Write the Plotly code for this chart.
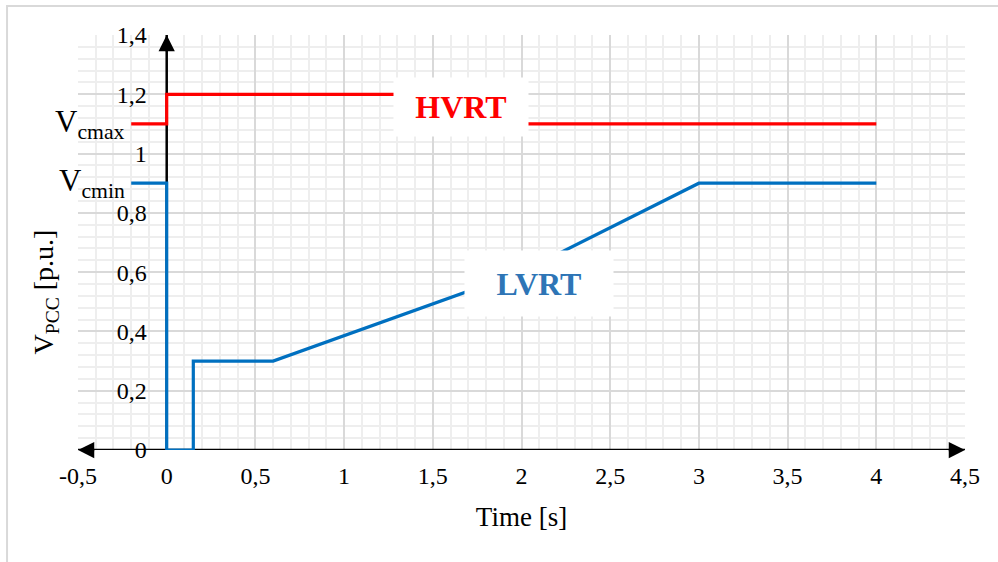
import plotly.graph_objects as go

# ---- data ----
hvrt_t = [-0.2, 0, 0, 1.5, 1.5, 4]
hvrt_v = [1.1, 1.1, 1.2, 1.2, 1.1, 1.1]
lvrt_t = [-0.2, 0, 0, 0.15, 0.15, 0.6, 2.0, 3.0, 4.0]
lvrt_v = [0.9, 0.9, 0, 0, 0.3, 0.3, 0.6, 0.9, 0.9]
x_ticks = [-0.5, 0, 0.5, 1, 1.5, 2, 2.5, 3, 3.5, 4, 4.5]
x_ticktext = ["-0,5", "0", "0,5", "1", "1,5", "2", "2,5", "3", "3,5", "4", "4,5"]
y_ticks = [0, 0.2, 0.4, 0.6, 0.8, 1.0, 1.2, 1.4]
y_ticktext = ["0", "0,2", "0,4", "0,6", "0,8", "1", "1,2", "1,4"]
v_cmax = 1.1
v_cmin = 0.9

FONT = "Liberation Serif"
RED = "#FF0000"
BLUE = "#0070C0"
XMIN, XMAX = -0.5, 4.5
YMIN, YMAX = 0, 1.4

fig = go.Figure()

# axis lines (drawn below data)
fig.add_trace(go.Scatter(x=[XMIN, XMAX], y=[0, 0], mode="lines",
                         line=dict(color="black", width=2.5), hoverinfo="skip", showlegend=False))
fig.add_trace(go.Scatter(x=[0, 0], y=[YMIN, YMAX], mode="lines",
                         line=dict(color="black", width=2.5), hoverinfo="skip", showlegend=False))

fig.add_trace(go.Scatter(x=hvrt_t, y=hvrt_v, mode="lines", name="HVRT",
                         line=dict(color=RED, width=3.2), showlegend=False))
fig.add_trace(go.Scatter(x=lvrt_t, y=lvrt_v, mode="lines", name="LVRT",
                         line=dict(color=BLUE, width=3.2), showlegend=False))

annotations = []
# arrowheads
for (x, y, ax, ay) in [(XMAX, 0, XMAX - 0.1, 0), (XMIN, 0, XMIN + 0.1, 0), (0, YMAX, 0, YMAX - 0.06)]:
    annotations.append(dict(x=x, y=y, ax=ax, ay=ay, xref="x", yref="y", axref="x", ayref="y",
                            showarrow=True, arrowhead=2, arrowsize=1.3, arrowwidth=2.5,
                            arrowcolor="black", text=""))

# labels
annotations.append(dict(x=1.657, y=1.157, xref="x", yref="y", text="<b>HVRT</b>",
                        showarrow=False, font=dict(family=FONT, size=32, color=RED),
                        bgcolor="white", width=132, height=56))
annotations.append(dict(x=2.10, y=0.562, xref="x", yref="y", text="<b>LVRT</b>",
                        showarrow=False, font=dict(family=FONT, size=32, color="#2E75B6"),
                        bgcolor="white", width=146, height=63))
annotations.append(dict(x=-0.225, y=v_cmax, xref="x", yref="y", text="V<sub>cmax</sub>",
                        showarrow=False, xanchor="right", yanchor="middle",
                        font=dict(family=FONT, size=31, color="black")))
annotations.append(dict(x=-0.225, y=v_cmin, xref="x", yref="y", text="V<sub>cmin</sub>",
                        showarrow=False, xanchor="right", yanchor="middle",
                        font=dict(family=FONT, size=31, color="black")))
# y title
annotations.append(dict(x=-0.037, y=0.38, xref="paper", yref="paper", text="V<sub>PCC</sub> [p.u.]",
                        showarrow=False, textangle=-90, xanchor="center", yanchor="middle",
                        font=dict(family=FONT, size=28, color="black")))

fig.update_layout(
    width=998, height=562,
    margin=dict(l=78, r=33, t=35, b=112),
    paper_bgcolor="white", plot_bgcolor="white",
    font=dict(family=FONT, size=23, color="black"),
    annotations=annotations,
    shapes=[dict(type="rect", xref="paper", yref="paper",
                 x0=-0.080, x1=1.2, y0=-0.5, y1=1.070,
                 line=dict(color="#d9d9d9", width=2), fillcolor="rgba(0,0,0,0)", layer="below")],
    xaxis=dict(range=[XMIN, XMAX], tickvals=x_ticks, ticktext=x_ticktext,
               showgrid=True, gridcolor="#d9d9d9", gridwidth=1.5,
               minor=dict(dtick=0.1, tick0=0, showgrid=True, gridcolor="#eeeeee", gridwidth=1.5),
               zeroline=False, showline=False, ticks="", ticklabelstandoff=9,
               title=dict(text="Time [s]", font=dict(family=FONT, size=27), standoff=19),
               tickfont=dict(family=FONT, size=24)),
    yaxis=dict(range=[YMIN, YMAX], tickvals=y_ticks, ticktext=y_ticktext,
               anchor="free", position=0.1,
               showgrid=True, gridcolor="#d9d9d9", gridwidth=1.5,
               minor=dict(dtick=0.04, tick0=0, showgrid=True, gridcolor="#eeeeee", gridwidth=1.5),
               zeroline=False, showline=False, ticks="", ticklabelstandoff=20,
               tickfont=dict(family=FONT, size=24), automargin=False),
)

fig.write_html("out.html")
